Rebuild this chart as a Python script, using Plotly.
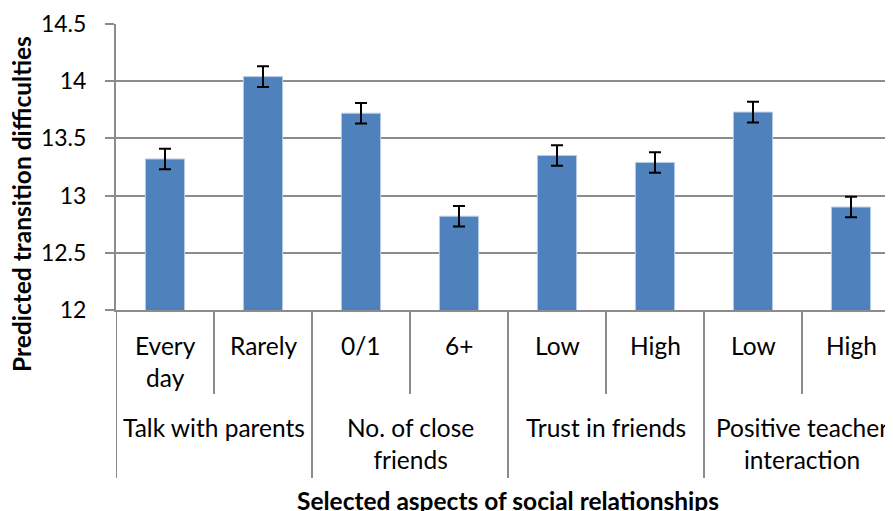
import plotly.graph_objects as go

groups = ["Talk with parents", "No. of close<br>friends", "Trust in friends", "Positive teacher<br>interaction"]
subcats = ["Every<br>day", "Rarely", "0/1", "6+", "Low", "High", "Low", "High"]
values = [13.32, 14.04, 13.72, 12.82, 13.35, 13.29, 13.73, 12.90]
errors = [0.09, 0.09, 0.09, 0.09, 0.09, 0.09, 0.09, 0.09]
y_ticks = [12, 12.5, 13, 13.5, 14, 14.5]
y_ticktext = ["12", "12.5", "13", "13.5", "14", "14.5"]

FONT = "Lato, Open Sans, sans-serif"
OFF = 8  # page body margin
W, H = 893 - OFF, 511 - OFF
ML, MT = 116 - OFF, 24 - OFF
PW, PH = W - ML, 286
MB = H - MT - PH
GRID = "#8c8c8c"
LBL = 24.5

xpos = list(range(len(values)))

fig = go.Figure()
fig.add_trace(go.Bar(
    x=xpos, y=values, width=0.4,
    marker=dict(color="#4F81BD", line=dict(color="#B9CDE5", width=1)),
    error_y=dict(type="data", array=errors, visible=True, color="black", thickness=2, width=6),
))

def py(sy):
    return (MT + PH - (sy - OFF)) / PH

def px(sx):
    return ((sx - OFF) - ML) / PW

annotations = []
for i, s in enumerate(subcats):
    annotations.append(dict(x=i, y=py(329), xref="x", yref="paper", text=s, showarrow=False,
                            xanchor="center", yanchor="top", font=dict(family=FONT, size=LBL, color="black")))
for g, name in enumerate(groups):
    annotations.append(dict(x=2 * g + 0.5, y=py(411), xref="x", yref="paper", text=name, showarrow=False,
                            xanchor="center", yanchor="top", font=dict(family=FONT, size=LBL, color="black")))
annotations.append(dict(x=3.5, y=py(500), xref="x", yref="paper", text="<b>Selected aspects of social relationships</b>",
                        showarrow=False, xanchor="center", yanchor="middle", font=dict(family=FONT, size=LBL, color="black")))
annotations.append(dict(x=px(21), y=py(204), xref="paper", yref="paper", text="<b>Predicted transition difficulties</b>",
                        showarrow=False, textangle=-90, xanchor="center", yanchor="middle", font=dict(family=FONT, size=LBL, color="black")))

shapes = []
for k in range(0, 9):
    xb = -0.5 + k
    major = (k % 2 == 0)
    bottom = 478 if major else 394
    shapes.append(dict(type="line", xref="x", yref="paper", x0=xb, x1=xb, y0=0, y1=py(bottom),
                       line=dict(color=GRID, width=2)))

fig.update_layout(
    width=W, height=H,
    margin=dict(l=ML, r=0, t=MT, b=MB),
    paper_bgcolor="white", plot_bgcolor="white",
    showlegend=False,
    annotations=annotations, shapes=shapes,
    xaxis=dict(range=[-0.5, -0.5 + PW / 98], showticklabels=False, showgrid=False, zeroline=False,
               showline=True, linecolor=GRID, linewidth=2, ticks=""),
    yaxis=dict(range=[12, 14.5], tickvals=y_ticks, ticktext=y_ticktext, showgrid=True, gridcolor=GRID, gridwidth=2,
               zeroline=False, showline=True, linecolor=GRID, linewidth=2, ticks="outside", ticklen=9,
               tickcolor=GRID, tickwidth=2, ticklabelstandoff=14,
               tickfont=dict(family=FONT, size=23, color="black")),
)
fig.write_html("out.html")
